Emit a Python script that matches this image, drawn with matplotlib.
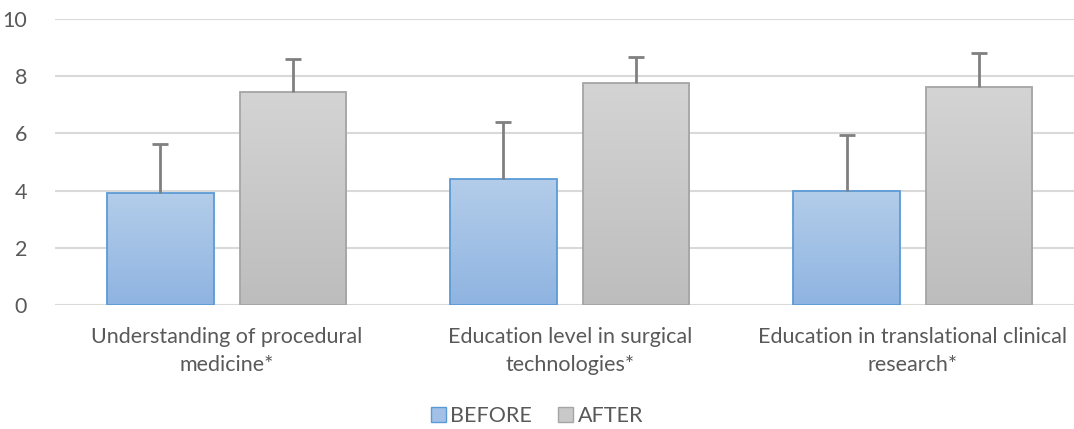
import numpy as np
import matplotlib.pyplot as plt
from matplotlib.colors import LinearSegmentedColormap
from matplotlib.patches import Patch

categories = ["Understanding of procedural\nmedicine*",
              "Education level in surgical\ntechnologies*",
              "Education in translational clinical\nresearch*"]
before = [3.9, 4.4, 4.0]
before_err = [1.73, 2.0, 1.95]
after = [7.45, 7.77, 7.62]
after_err = [1.15, 0.9, 1.2]

plt.rcParams['font.family'] = ['Lato', 'DejaVu Sans']
txt = '#595959'

fig = plt.figure(figsize=(10.74, 4.29), dpi=100)
ax = fig.add_axes([55 / 1074, 1 - 305 / 429, 1 - 55 / 1074, 286 / 429])

x = np.arange(len(categories))
w = 0.31
gap = 0.076


def grad_bars(xs, vals, errs, top, bottom, edge):
    bars = ax.bar(xs, vals, w, color='none', edgecolor=edge, linewidth=1.3, zorder=3)
    cmap = LinearSegmentedColormap.from_list('g', [bottom, top])
    g = np.linspace(0, 1, 256).reshape(-1, 1)
    for b in bars:
        bx, by = b.get_x(), b.get_y()
        im = ax.imshow(g, cmap=cmap, origin='lower', aspect='auto',
                       extent=[bx, bx + b.get_width(), by, by + b.get_height()],
                       zorder=2)
        im.set_clip_path(b)
    eb = ax.errorbar(xs, vals, yerr=[np.zeros(len(vals)), errs], fmt='none',
                     ecolor='#808080', elinewidth=2, capsize=6, capthick=2, zorder=4)
    eb[1][0].set_visible(False)  # no cap at the bar top


grad_bars(x - (w + gap) / 2, before, before_err, '#B3CDEA', '#8FB4E1', '#5B9BD5')
grad_bars(x + (w + gap) / 2, after, after_err, '#D4D4D4', '#BDBDBD', '#A5A5A5')

ax.set_xlim(-0.5, 2.47)
ax.set_ylim(0, 10)
ax.set_yticks(range(0, 11, 2))
ax.yaxis.grid(True, color='#D9D9D9', linewidth=1.5, zorder=0)
ax.set_axisbelow(True)
for s in ax.spines.values():
    s.set_visible(False)
ax.tick_params(axis='both', length=0, colors=txt, labelsize=15.5)
ax.tick_params(axis='y', pad=20)
ax.set_xticks(x)
ax.set_xticklabels(categories, color=txt, fontsize=15.5, linespacing=1.5)
ax.tick_params(axis='x', pad=16)

handles = [Patch(facecolor='#A3C1E6', edgecolor='#5B9BD5'),
           Patch(facecolor='#C9C9C9', edgecolor='#A5A5A5')]
fig.legend(handles, ['BEFORE', 'AFTER'], loc='center', bbox_to_anchor=(0.5, 1 - 416 / 429),
           ncol=2, frameon=False, fontsize=15.5, labelcolor=txt, handlelength=0.7,
           handleheight=0.7, handletextpad=0.2, columnspacing=1.2)

fig.savefig('out.png', dpi=100)
